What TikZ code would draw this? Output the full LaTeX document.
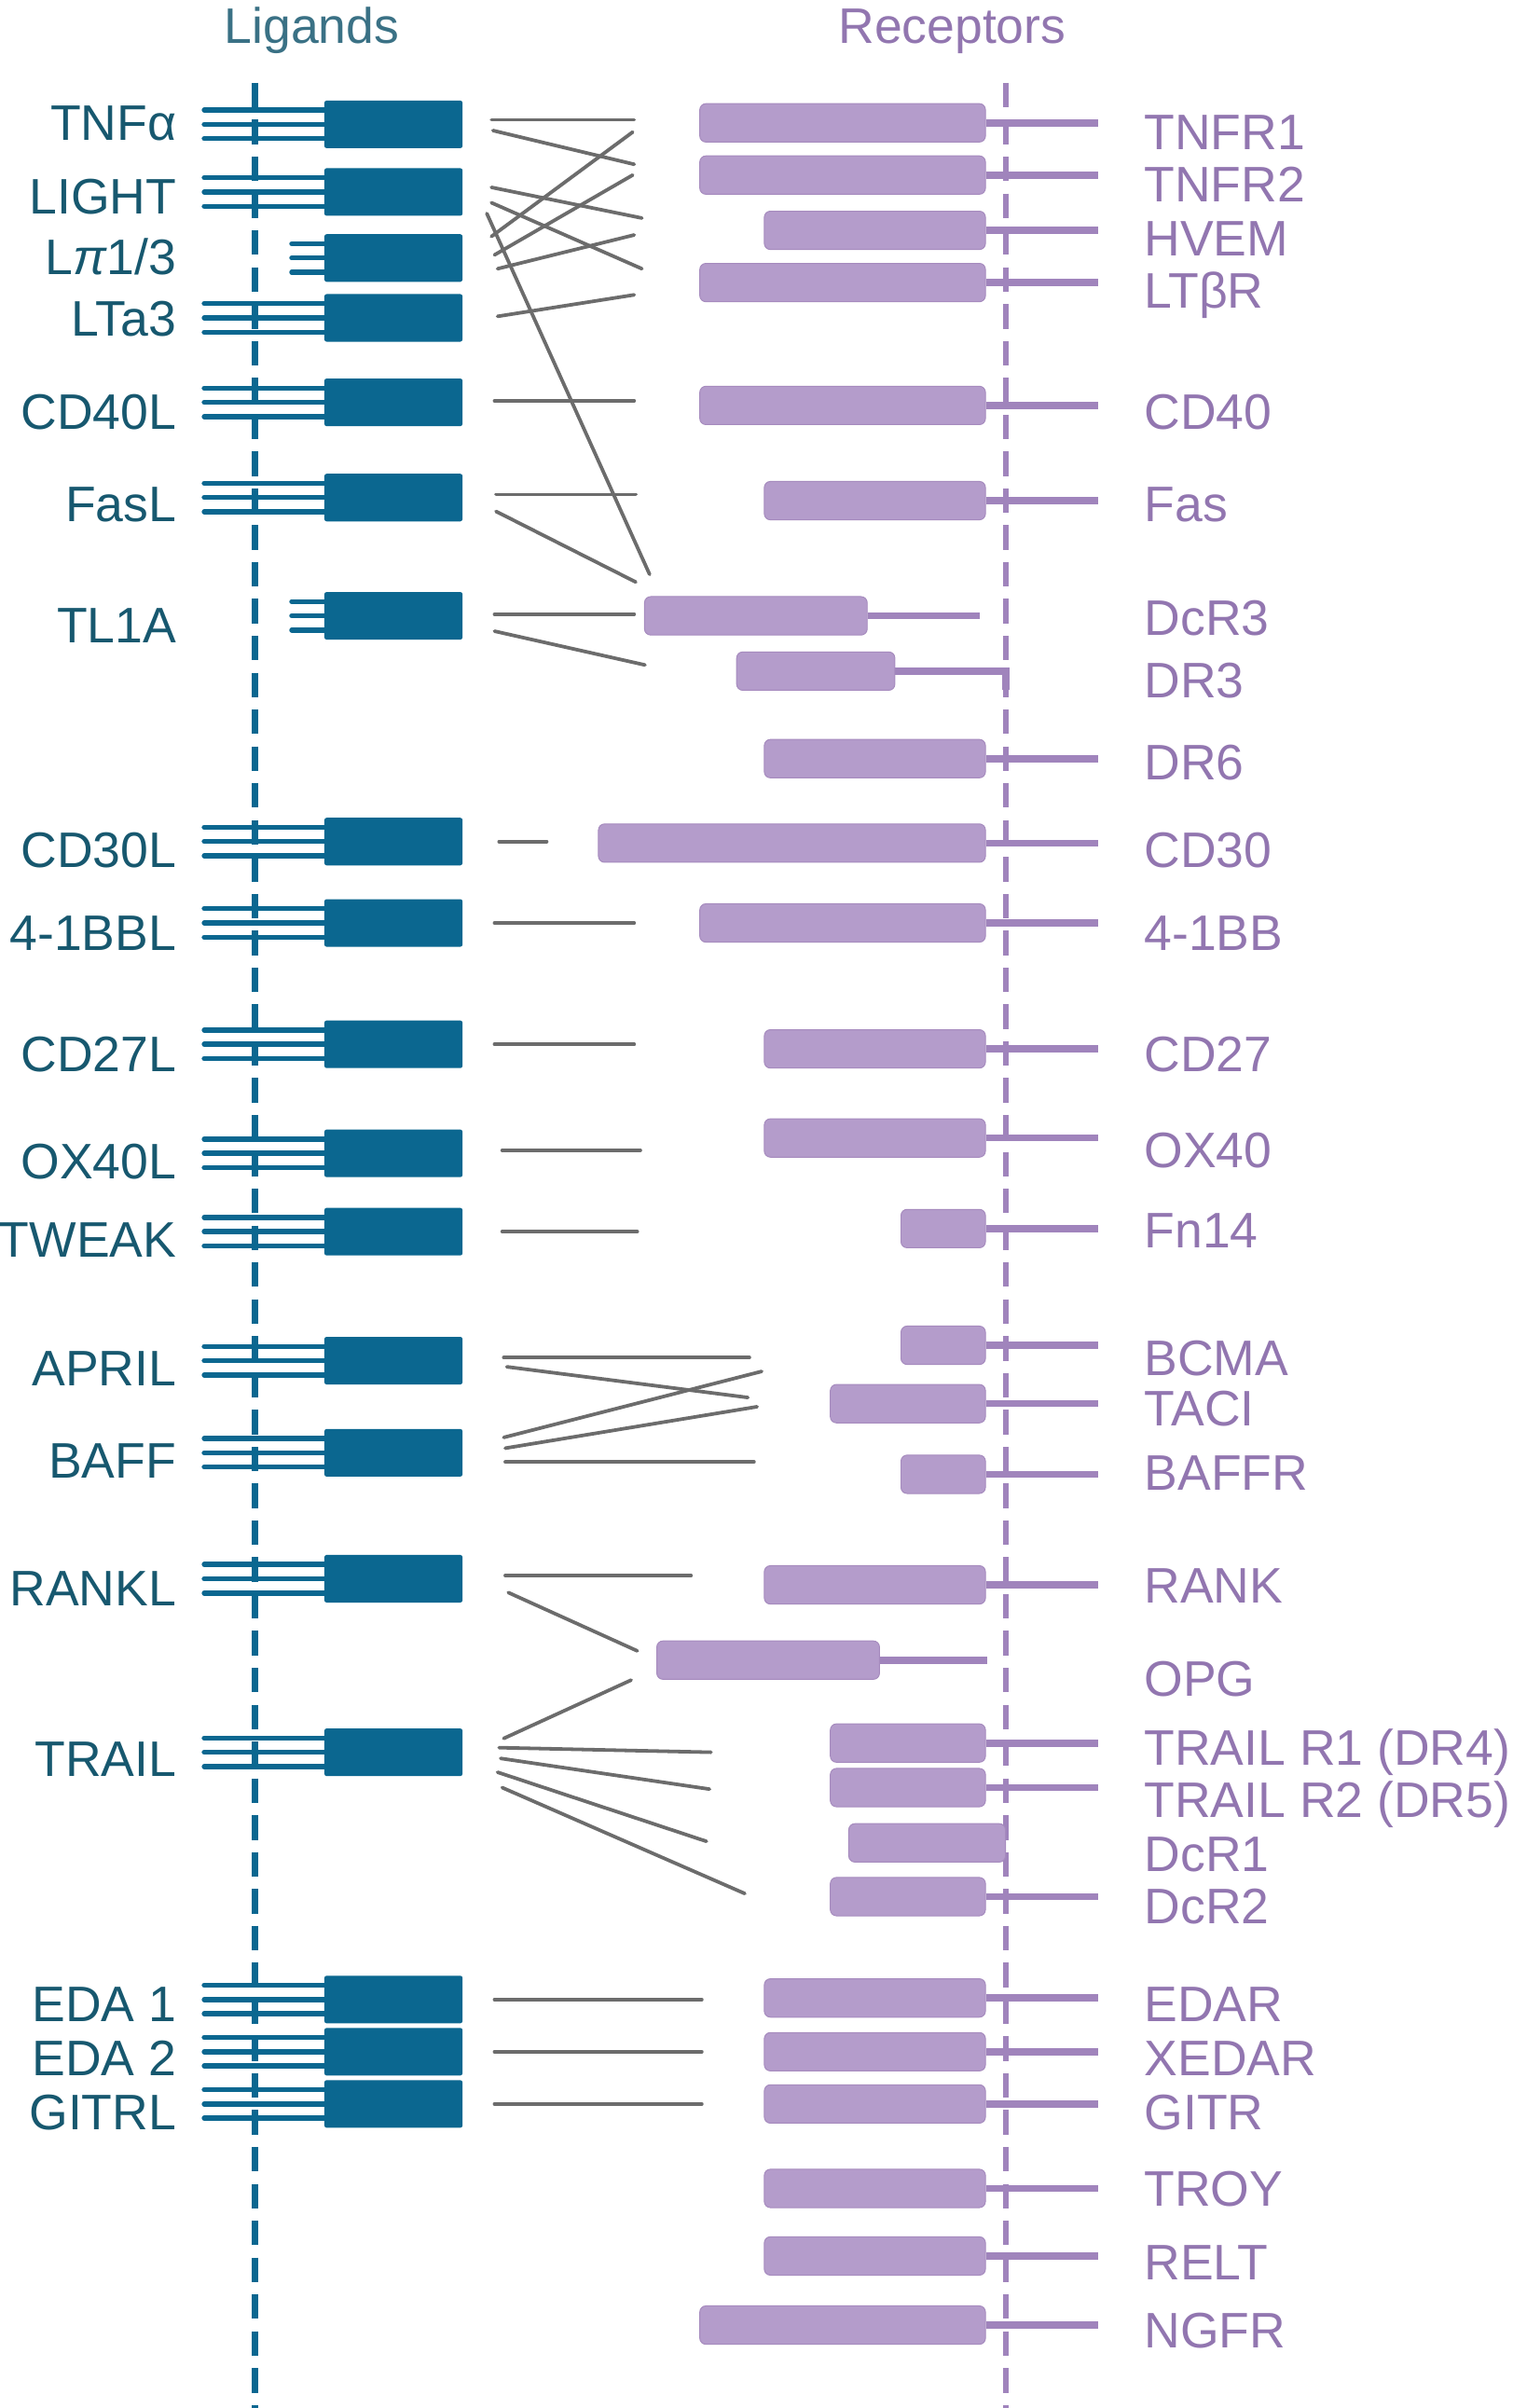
\documentclass[tikz,border=0pt]{standalone}
\usepackage{fontspec}
\setmainfont{Liberation Sans}
\definecolor{ligblue}{HTML}{0B6790}
\definecolor{ligtext}{HTML}{17586F}
\definecolor{recpurple}{HTML}{B49CCB}
\definecolor{recedge}{HTML}{A68BBE}
\definecolor{rectext}{HTML}{9276B0}
\definecolor{recline}{HTML}{A084BC}
\definecolor{linkgray}{HTML}{6C6C6C}
\begin{document}
\begin{tikzpicture}[x=1pt, y=-1pt,
  every node/.style={font=\fontsize{32.5}{39}\selectfont},
  lbox/.style={fill=ligblue, rounded corners=1.5pt, minimum width=90pt, minimum height=31pt, inner sep=0pt, anchor=west},
  rbox/.style={fill=recpurple, draw=recedge, line width=0.6pt, rounded corners=4pt, minimum height=25pt, inner sep=0pt, anchor=east},
  stalk/.style={ligblue, line width=3.3pt, line cap=round},
  tail/.style={recline, line width=4.6pt},
  link/.style={linkgray, line width=2.3pt, line cap=round},
  ltext/.style={ligtext, anchor=base east, inner sep=0pt, yshift=-11.6pt},
  rtext/.style={rectext, anchor=base west, inner sep=0pt, yshift=-11.6pt},
  membrane/.style={line width=3.8pt, dash pattern=on 16pt off 8pt}]
  \fill[white] (0,0) rectangle (985,1568);
  \useasboundingbox (0,0) rectangle (985,1568);
  % Titles
  \node[ligtext!85, anchor=base] (ligtitle) at (203,28) {Ligands};
  \node[rectext, anchor=base] (rectitle) at (620,28) {Receptors};
  % Membranes
  \draw[membrane, ligblue] (166,54) -- (166,1568);
  \draw[membrane, recline] (655,54) -- (655,1568);
  % Ligands (name/label/box y/label y/stalk start)
  \foreach \n/\lbl/\y/\ty/\s in {tnfa/TNFα/81/80/133, light/LIGHT/125/128/133, lta/{L\textit{π}1/3}/168/167/190,
      lta3/LTa3/207/207/133, cd40l/CD40L/262/268/133, fasl/FasL/324/328/133, tl1a/TL1A/401/407/190,
      cd30l/CD30L/548/553/133, bbl/4-1BBL/601/607/133, cd27l/CD27L/680/686/133, ox40l/OX40L/751/756/133,
      tweak/TWEAK/802/807/133, april/APRIL/886/891/133, baff/BAFF/946/951/133, rankl/RANKL/1028/1034/133,
      trail/TRAIL/1141/1145/133, eda1/EDA 1/1302/1305/133, eda2/EDA 2/1336/1340/133, gitrl/GITRL/1370/1375/133}{
    \foreach \d in {-9.3,0,9.3}
      \draw[stalk] (\s,\y+\d) -- (211,\y+\d);
    \node[lbox] (\n) at (211,\y) {};
    \node[ltext] (\n-lbl) at (115,\ty) {\lbl};
  }
  % Receptors (name/label/box y/label y/box start)
  \foreach \n/\lbl/\y/\ty/\xl in {tnfr1/TNFR1/80/86/456, tnfr2/TNFR2/114/120/456, hvem/HVEM/150/155/498,
      ltbr/LTβR/184/189/456, cd40/CD40/264/268/456, fas/Fas/326/328/498, dr6/DR6/494/496/498,
      cd30/CD30/549/553/390, bb/4-1BB/601/607/456, cd27/CD27/683/686/498, ox40/OX40/741/749/498,
      fn14/Fn14/800/801/587, bcma/BCMA/876/884/587, taci/TACI/914/917/541, baffr/BAFFR/960/959/587,
      rank/RANK/1032/1032/498, trailr1/{TRAIL R1 (DR4)}/1135/1138/541, trailr2/{TRAIL R2 (DR5)}/1164/1172/541,
      dcr2/DcR2/1235/1241/541, edar/EDAR/1301/1305/498, xedar/XEDAR/1336/1340/498, gitr/GITR/1370/1375/498,
      troy/TROY/1425/1425/498, relt/RELT/1469/1473/498, ngfr/NGFR/1514/1517/456}{
    \draw[tail] (642,\y) -- (715,\y);
    \node[rbox, minimum width={(642-\xl)*1pt}] (\n) at (642,\y) {};
    \node[rtext] (\n-lbl) at (745,\ty) {\lbl};
  }
  % Soluble and decoy receptors
  \draw[tail] (565,401) -- (638,401);
  \node[rbox, minimum width=145pt] (dcr3) at (565,401) {};
  \node[rtext] (dcr3-lbl) at (745,402) {DcR3};
  \draw[tail] (583,437) -- (655,437) -- (655,449);
  \node[rbox, minimum width=103pt] (dr3) at (583,437) {};
  \node[rtext] (dr3-lbl) at (745,443) {DR3};
  \draw[tail] (573,1081) -- (643,1081);
  \node[rbox, minimum width=145pt] (opg) at (573,1081) {};
  \node[rtext] (opg-lbl) at (745,1093) {OPG};
  \node[rbox, minimum width=102pt] (dcr1) at (655,1200) {};
  \node[rtext] (dcr1-lbl) at (745,1207) {DcR1};
  % Binding lines
  \foreach \n/\xa/\ya/\xb/\yb in {tnfa-tnfr1/320/78/413/78, tnfa-tnfr2/321/85/413/107,
      light-hvem/320/122/418/142, light-ltbr/320/132/418/175, light-dcr3/317/139/423/374,
      lta-tnfr1/320/154/412/86, lta-tnfr2/322/166/412/114, lta-hvem/324/175/413/153,
      lta3-ltbr/324/206/413/192, cd40l-cd40/322/261/413/261, fasl-fas/323/322/414/322,
      fasl-dcr3/323/333/414/379, tl1a-dcr3/322/400/413/400, tl1a-dr3/322/411/420/433,
      cd30l-cd30/325/548/356/548, bbl-bb/322/601/413/601, cd27l-cd27/322/680/413/680,
      ox40l-ox40/327/749/417/749, tweak-fn14/327/802/415/802,
      april-bcma/328/884/488/884, april-taci/330/890/487/910, baff-bcma/328/936/496/893,
      baff-taci/329/943/493/916, baff-baffr/329/952/491/952,
      rankl-rank/329/1026/450/1026, rankl-opg/331/1037/415/1075, trail-opg/328/1132/411/1094,
      trail-r1/325/1138/463/1141, trail-r2/326/1145/462/1165, trail-dcr1/324/1154/460/1199,
      trail-dcr2/327/1164/485/1233, eda1-edar/322/1302/457/1302, eda2-xedar/322/1336/457/1336,
      gitrl-gitr/322/1370/457/1370}{
    \coordinate (\n-s) at (\xa,\ya);
    \coordinate (\n-e) at (\xb,\yb);
    \draw[link] (\n-s) -- (\n-e);
  }
\end{tikzpicture}
\end{document}
